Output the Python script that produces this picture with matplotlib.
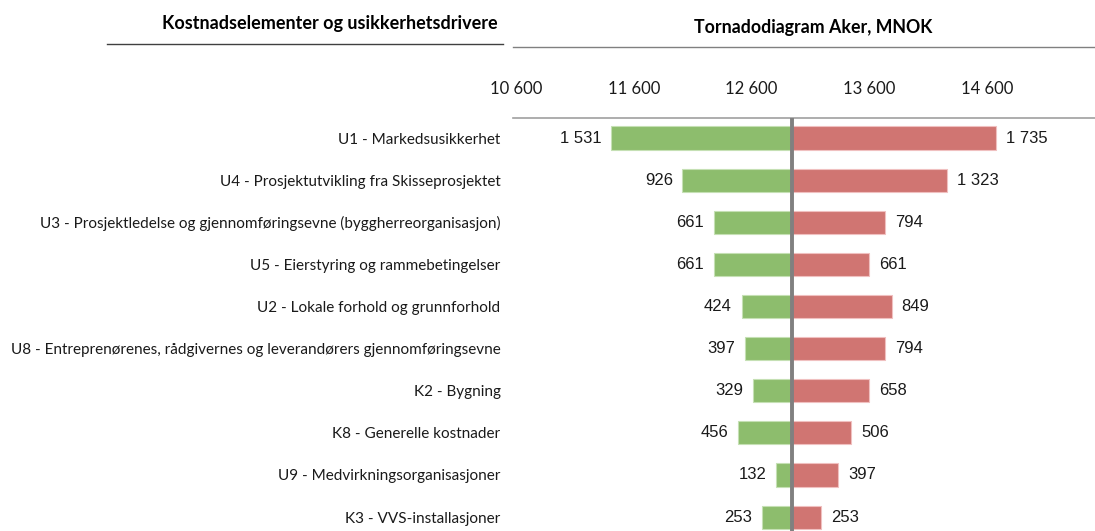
import matplotlib
matplotlib.use('Agg')
import numpy as np
import matplotlib.pyplot as plt
from matplotlib.lines import Line2D

categories = [
    "U1 - Markedsusikkerhet",
    "U4 - Prosjektutvikling fra Skisseprosjektet",
    "U3 - Prosjektledelse og gjennomføringsevne (byggherreorganisasjon)",
    "U5 - Eierstyring og rammebetingelser",
    "U2 - Lokale forhold og grunnforhold",
    "U8 - Entreprenørenes, rådgivernes og leverandørers gjennomføringsevne",
    "K2 - Bygning",
    "K8 - Generelle kostnader",
    "U9 - Medvirkningsorganisasjoner",
    "K3 - VVS-installasjoner",
]
low = [1531, 926, 661, 661, 424, 397, 329, 456, 132, 253]
high = [1735, 1323, 794, 661, 849, 794, 658, 506, 397, 253]
base = 12940
xticks = [10600, 11600, 12600, 13600, 14600]

green = "#8dbd6d"
red = "#d07572"

def fmt(v):
    return f"{v:,}".replace(",", " ")

W, H = 1095, 531
fig = plt.figure(figsize=(W / 100, H / 100), dpi=100)
ax = fig.add_axes([513 / W, 0, (W - 513) / W, (H - 118) / H])

y = np.arange(len(categories))
ax.barh(y, low, left=[base - v for v in low], height=0.55, color=green,
        edgecolor="#c5e0b4", linewidth=0.8, zorder=2)
ax.barh(y, high, left=base, height=0.55, color=red,
        edgecolor="#f0c0c0", linewidth=0.8, zorder=2)
ax.axvline(base, color="#808080", lw=2.8, zorder=3)

for yi, lo, hi in zip(y, low, high):
    ax.annotate(fmt(lo), (base - lo, yi), xytext=(-7, 0), textcoords="offset points",
                ha="right", va="center", fontsize=12, family="Liberation Sans", color="#1a1a1a")
    ax.annotate(fmt(hi), (base + hi, yi), xytext=(7, 0), textcoords="offset points",
                ha="left", va="center", fontsize=12, family="Liberation Sans", color="#1a1a1a")

ax.set_xlim(10575, 15516)
ax.set_ylim(9.33, -0.475)
ax.xaxis.tick_top()
ax.set_xticks(xticks)
ax.set_xticklabels([fmt(v) for v in xticks], fontsize=12, family="Lato", color="#1a1a1a")
ax.set_yticks(y)
ax.set_yticklabels(categories, fontsize=11, family="Lato", color="#1a1a1a")
ax.tick_params(axis="x", length=0, pad=15)
ax.tick_params(axis="y", length=0, pad=9)
for s in ["left", "right", "bottom"]:
    ax.spines[s].set_visible(False)
ax.spines["top"].set_color("#a0a0a0")
ax.spines["top"].set_linewidth(1.2)

# headers with underlines
fig.text(330 / W, 1 - 23 / H, "Kostnadselementer og usikkerhetsdrivere", ha="center", va="center",
         fontsize=13, fontweight="bold", family="Lato")
fig.text(813 / W, 1 - 27 / H, "Tornadodiagram Aker, MNOK", ha="center", va="center",
         fontsize=12.8, fontweight="bold", family="Lato")
fig.add_artist(Line2D([107 / W, 503 / W], [1 - 44 / H, 1 - 44 / H], color="#404040", lw=1))
fig.add_artist(Line2D([513 / W, 1.0], [1 - 47 / H, 1 - 47 / H], color="#808080", lw=1))

fig.savefig("out.png", dpi=100)
